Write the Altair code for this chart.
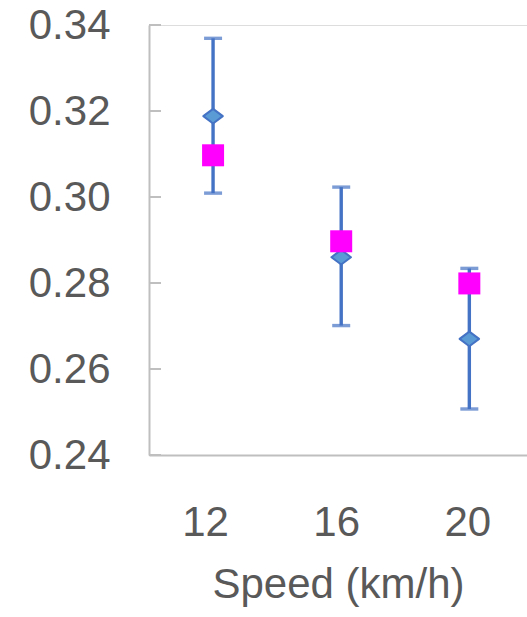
import altair as alt
import pandas as pd

# Speed categories (km/h)
speeds = [12, 16, 20]
# Measured series: mean with lower/upper error limits
measured_mean = [0.3188, 0.2860, 0.2670]
measured_upper = [0.3369, 0.3023, 0.2834]
measured_lower = [0.3009, 0.2701, 0.2507]
# Comparison series
model_value = [0.3097, 0.2897, 0.2799]
# Y axis tick values
y_ticks = [0.24, 0.26, 0.28, 0.30, 0.32, 0.34]

df = pd.DataFrame({
    "speed": speeds,
    "mean": measured_mean,
    "upper": measured_upper,
    "lower": measured_lower,
    "model": model_value,
})
ticks_df = pd.DataFrame({"v": y_ticks})

GRAY_TEXT = "#595959"
AXIS_GRAY = "#BFBFBF"
BLUE_LINE = "#4472C4"
BLUE_FILL = "#5B9BD5"
MAGENTA = "#FF00FF"
FONT = "Liberation Sans"

x = alt.X(
    "speed:Q",
    scale=alt.Scale(domain=[10.0, 21.8], nice=False, zero=False),
    axis=alt.Axis(
        values=speeds,
        title="Speed (km/h)",
        grid=False,
        ticks=False,
        domainColor=AXIS_GRAY,
        domainWidth=2,
        labelFont=FONT,
        labelFontSize=42,
        labelColor=GRAY_TEXT,
        labelPadding=47,
        labelOffset={
            "condition": [
                {"test": "datum.value == 12", "value": -8},
                {"test": "datum.value == 16", "value": -5},
            ],
            "value": -2,
        },
        labelFlush=False,
        titleFont=FONT,
        titleFontSize=42,
        titleFontWeight="normal",
        titleColor=GRAY_TEXT,
        titleBaseline="alphabetic",
        titleY=142,
    ),
)
y_scale = alt.Scale(domain=[0.24, 0.34], nice=False, zero=False)
y_axis = alt.Axis(
    values=y_ticks,
    format=".2f",
    title=None,
    grid=False,
    ticks=False,
    domainColor=AXIS_GRAY,
    domainWidth=2,
    labelFont=FONT,
    labelFontSize=42,
    labelColor=GRAY_TEXT,
    labelPadding=39,
    labelFlush=False,
)

base = alt.Chart(df)

# Inward-pointing tick marks on the y axis
y_tick_marks = alt.Chart(ticks_df).mark_rule(color=AXIS_GRAY, strokeWidth=2).encode(
    y=alt.Y("v:Q", scale=y_scale, axis=y_axis),
    x=alt.value(0),
    x2=alt.value(12),
)

err_line = base.mark_rule(color=BLUE_LINE, strokeWidth=3.4).encode(
    x=x,
    y=alt.Y("lower:Q", scale=y_scale, axis=y_axis),
    y2="upper:Q",
)
cap_top = base.mark_tick(color=BLUE_LINE, orient="horizontal", size=18, thickness=3.4).encode(
    x=x, y=alt.Y("upper:Q", scale=y_scale)
)
cap_bottom = base.mark_tick(color=BLUE_LINE, orient="horizontal", size=18, thickness=3.4).encode(
    x=x, y=alt.Y("lower:Q", scale=y_scale)
)
diamonds = base.mark_point(
    shape="M-1,0L0,-0.75L1,0L0,0.75Z",
    size=380,
    filled=True,
    fill=BLUE_FILL,
    stroke=BLUE_LINE,
    strokeWidth=2,
    strokeJoin="round",
    opacity=1,
).encode(x=x, y=alt.Y("mean:Q", scale=y_scale))
squares = base.mark_point(
    shape="square",
    size=484,
    filled=True,
    color=MAGENTA,
    opacity=1,
).encode(x=x, y=alt.Y("model:Q", scale=y_scale))

chart = alt.layer(
    y_tick_marks, err_line, cap_top, cap_bottom, diamonds, squares
).properties(
    width=378,
    height=430,
    autosize=alt.AutoSizeParams(type="none"),
    padding={"left": 149, "top": 25, "right": 0, "bottom": 162},
).configure_view(stroke=None).configure(background="white")

chart.save("out.html", embed_options={"renderer": "svg", "actions": False})
